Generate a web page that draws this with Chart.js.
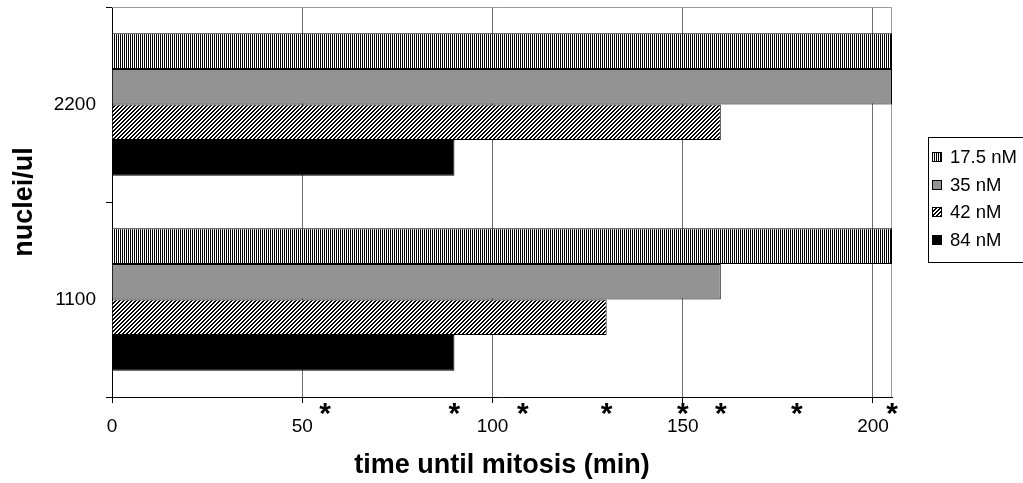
<!DOCTYPE html>
<html>
<head>
<meta charset="utf-8">
<script src="https://cdn.jsdelivr.net/npm/chart.js@4/dist/chart.umd.min.js"></script>
<style>
  html, body { margin: 0; padding: 0; background: #fff; overflow: hidden; }
  #wrap { width: 1023px; height: 483px; position: relative; }
</style>
</head>
<body>
<div id="wrap"><canvas id="c" width="1023" height="483"></canvas></div>
<script>
// Nuclei concentration groups (top to bottom) and time until mitosis per dose
const categories = ['2200', '1100'];
const seriesNames = ['17.5 nM', '35 nM', '42 nM', '84 nM'];
const values175 = [205, 205];
const values35 = [205, 160];
const values42 = [160, 130];
const values84 = [90, 90];
const xTickValues = [0, 50, 100, 150, 200];
const xMax = 205;
// Observation times marked with an asterisk under the time axis
const asteriskTimes = [56, 90, 108, 130, 150, 160, 180, 205];

function makePattern(size, painter) {
  const c = document.createElement('canvas');
  c.width = size; c.height = size;
  const g = c.getContext('2d');
  g.fillStyle = '#fff';
  g.fillRect(0, 0, size, size);
  g.fillStyle = '#000';
  painter(g);
  return document.getElementById('c').getContext('2d').createPattern(c, 'repeat');
}

// fine vertical stripes
const stripeFill = makePattern(2, g => { g.fillRect(0, 0, 1, 2); });
// dense diagonal hatch
const hatchFill = makePattern(4, g => {
  for (let y = 0; y < 4; y++) {
    g.fillRect((3 - y + 4) % 4, y, 1, 1);
    g.fillRect((4 - y + 4) % 4, y, 1, 1);
  }
});

const fills = [stripeFill, '#939393', hatchFill, '#000000'];
const seriesValues = [values175, values35, values42, values84];

const extras = {
  id: 'extras',
  beforeDatasetsDraw(chart) {
    const { ctx, chartArea: a } = chart;
    ctx.save();
    ctx.strokeStyle = '#9a9a9a';
    ctx.lineWidth = 1;
    ctx.beginPath();
    ctx.moveTo(a.left, a.top + 0.5);
    ctx.lineTo(a.right - 0.5, a.top + 0.5);
    ctx.lineTo(a.right - 0.5, a.bottom);
    ctx.stroke();
    ctx.restore();
  },
  afterDraw(chart) {
    const { ctx } = chart;
    const xs = chart.scales.x;
    ctx.save();
    // asterisks under the time axis
    ctx.fillStyle = '#000';
    ctx.font = 'bold 30px "Liberation Sans", Arial, sans-serif';
    ctx.textAlign = 'center';
    ctx.textBaseline = 'alphabetic';
    asteriskTimes.forEach(t => {
      ctx.fillText('*', xs.getPixelForValue(t), 423);
    });

    // legend
    ctx.strokeStyle = '#000';
    ctx.lineWidth = 1;
    ctx.strokeRect(928.5, 137.5, 120, 125);
    ctx.font = '18.5px "Liberation Sans", Arial, sans-serif';
    ctx.textAlign = 'left';
    ctx.textBaseline = 'middle';
    chart.data.datasets.forEach((ds, i) => {
      const cy = Math.round(157 + i * 27.7);
      ctx.fillStyle = ds.backgroundColor;
      ctx.fillRect(932, cy - 5, 10, 10);
      ctx.strokeRect(932.5, cy - 4.5, 9, 9);
      ctx.fillStyle = '#000';
      ctx.fillText(ds.label, 950, cy + 1);
    });
    ctx.restore();
  }
};

new Chart(document.getElementById('c'), {
  type: 'bar',
  data: {
    labels: categories,
    datasets: seriesNames.map((name, i) => ({
      label: name,
      data: seriesValues[i],
      backgroundColor: fills[i],
      borderColor: '#000',
      borderWidth: 1,
      borderSkipped: 'start',
      categoryPercentage: 0.73,
      barPercentage: 1.0
    }))
  },
  options: {
    indexAxis: 'y',
    responsive: false,
    animation: false,
    devicePixelRatio: 1,
    layout: { padding: { left: 0, right: 131, top: 7, bottom: 0 } },
    plugins: { legend: { display: false }, tooltip: { enabled: false } },
    scales: {
      x: {
        type: 'linear',
        min: 0,
        max: xMax,
        afterBuildTicks(scale) {
          scale.ticks = xTickValues.map(v => ({ value: v }));
        },
        afterFit(scale) { scale.height = 86; },
        ticks: {
          color: '#000',
          font: { family: '"Liberation Sans", Arial, sans-serif', size: 19 },
          padding: 12,
          maxRotation: 0
        },
        grid: { color: '#6e6e6e', tickColor: '#000', tickLength: 6, drawOnChartArea: true },
        border: { color: '#000', width: 1 },
        title: {
          display: true,
          text: 'time until mitosis (min)',
          color: '#000',
          font: { family: '"Liberation Sans", Arial, sans-serif', size: 27, weight: 'bold' },
          padding: { top: 0, bottom: 1 }
        }
      },
      y: {
        type: 'category',
        afterFit(scale) {
          scale.width = 112;
          scale.paddingTop = 0;
          scale.paddingBottom = 0;
        },
        ticks: {
          color: '#000',
          font: { family: '"Liberation Sans", Arial, sans-serif', size: 19 },
          padding: 10
        },
        grid: { color: '#000', tickLength: 6, drawOnChartArea: false, offset: true },
        border: { color: '#000', width: 1 },
        title: {
          display: true,
          text: 'nuclei/ul',
          color: '#000',
          font: { family: '"Liberation Sans", Arial, sans-serif', size: 27, weight: 'bold' },
          padding: { top: 8, bottom: 0 }
        }
      }
    }
  },
  plugins: [extras]
});
</script>
</body>
</html>
